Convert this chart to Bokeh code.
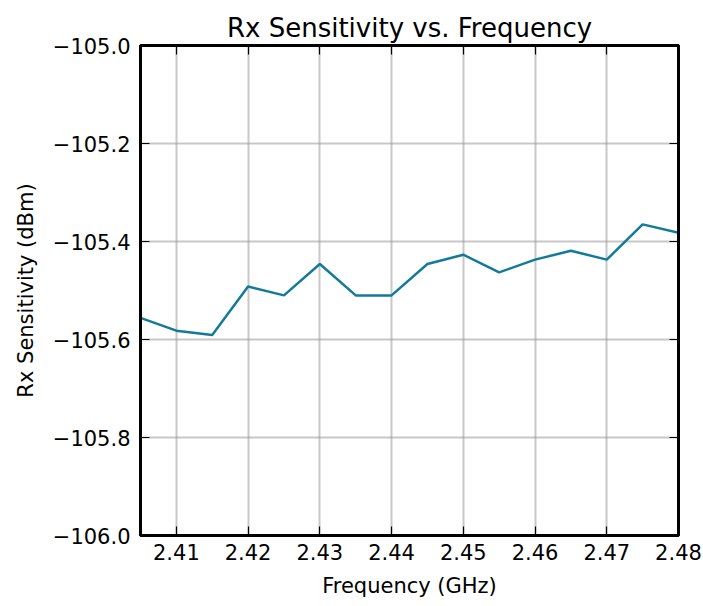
from bokeh.plotting import figure
from bokeh.models import LinearAxis, FixedTicker, Range1d
from bokeh.embed import file_html
from bokeh.resources import INLINE

# Data
freq_ghz = [2.405, 2.410, 2.415, 2.420, 2.425, 2.430, 2.435, 2.440,
            2.445, 2.450, 2.455, 2.460, 2.465, 2.470, 2.475, 2.480]
rx_sens_dbm = [-105.556, -105.582, -105.591, -105.492, -105.510, -105.446, -105.510, -105.510,
               -105.446, -105.427, -105.463, -105.437, -105.419, -105.437, -105.365, -105.382]

x_ticks = [2.41, 2.42, 2.43, 2.44, 2.45, 2.46, 2.47, 2.48]
x_tick_labels = ["2.41", "2.42", "2.43", "2.44", "2.45", "2.46", "2.47", "2.48"]
y_ticks = [-106.0, -105.8, -105.6, -105.4, -105.2, -105.0]
y_tick_labels = ["\u2212106.0", "\u2212105.8", "\u2212105.6", "\u2212105.4", "\u2212105.2", "\u2212105.0"]

FONT = "DejaVu Sans"
LINE_COLOR = "#137a9a"

p = figure(
    frame_width=538, frame_height=490,
    x_range=Range1d(2.405, 2.48), y_range=Range1d(-106.0, -105.0),
    output_backend="svg", toolbar_location=None,
    min_border_left=140, min_border_right=25, min_border_top=45, min_border_bottom=71,
    background_fill_color="white", border_fill_color="white",
)

p.title.text = "Rx Sensitivity vs. Frequency"
p.title.text_font = FONT
p.title.text_font_size = "26px"
p.title.text_font_style = "normal"
p.title.text_color = "black"
p.title.align = "center"
p.title.standoff = 6
p.title.offset = 0

p.outline_line_color = "black"
p.outline_line_width = 3
p.outline_line_alpha = 1.0

def style_axis(ax, ticks, labels, show_labels=True):
    ax.ticker = FixedTicker(ticks=ticks)
    ax.major_tick_in = 9
    ax.major_tick_out = 0
    ax.minor_tick_in = 0
    ax.minor_tick_out = 0
    ax.major_tick_line_color = "black"
    ax.major_tick_line_width = 1.2
    ax.axis_line_color = "black"
    ax.axis_line_width = 3
    ax.major_label_text_font = FONT
    ax.major_label_text_color = "black"
    ax.major_label_text_font_size = "21px"
    ax.axis_label_text_font = FONT
    ax.axis_label_text_font_style = "normal"
    ax.axis_label_text_color = "black"
    ax.axis_label_text_font_size = "21px"
    if show_labels:
        ax.major_label_overrides = {t: l for t, l in zip(ticks, labels)}
    else:
        ax.major_label_overrides = {t: "" for t in ticks}
        ax.major_label_standoff = 0
        ax.axis_label = None

style_axis(p.xaxis[0], x_ticks, x_tick_labels)
style_axis(p.yaxis[0], y_ticks, y_tick_labels)
p.xaxis[0].axis_label = "Frequency (GHz)"
p.yaxis[0].axis_label = "Rx Sensitivity (dBm)"
p.xaxis[0].major_label_standoff = 8
p.xaxis[0].axis_label_standoff = 11
p.yaxis[0].major_label_standoff = 10
p.yaxis[0].axis_label_standoff = 12

top_axis = LinearAxis()
style_axis(top_axis, x_ticks, x_tick_labels, show_labels=False)
p.add_layout(top_axis, "above")
right_axis = LinearAxis()
style_axis(right_axis, y_ticks, y_tick_labels, show_labels=False)
p.add_layout(right_axis, "right")

p.xgrid.ticker = FixedTicker(ticks=x_ticks)
p.ygrid.ticker = FixedTicker(ticks=y_ticks)
for g in (p.xgrid, p.ygrid):
    g.grid_line_color = "#9a9a9a"
    g.grid_line_alpha = 0.55
    g.grid_line_width = 2

p.line(freq_ghz, rx_sens_dbm, line_color=LINE_COLOR, line_width=2.5)

open("out.html", "w").write(file_html(p, INLINE))
